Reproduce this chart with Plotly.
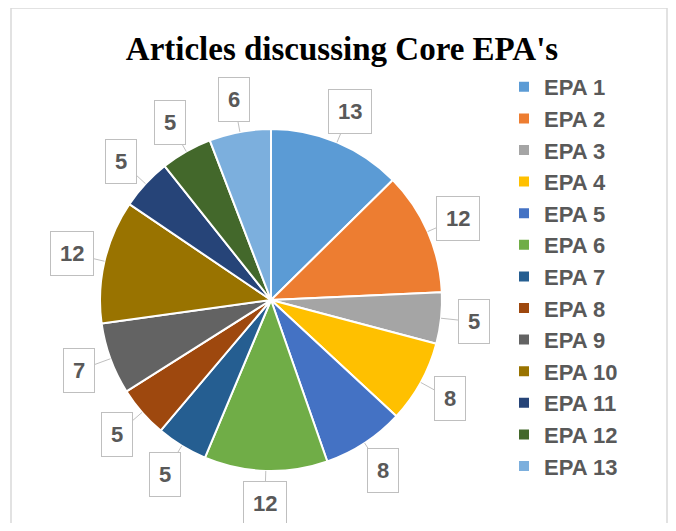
import numpy as np
import plotly.graph_objects as go

labels = ["EPA 1", "EPA 2", "EPA 3", "EPA 4", "EPA 5", "EPA 6", "EPA 7",
          "EPA 8", "EPA 9", "EPA 10", "EPA 11", "EPA 12", "EPA 13"]
values = [13, 12, 5, 8, 8, 12, 5, 5, 7, 12, 5, 5, 6]
colors = ["#5B9BD5", "#ED7D31", "#A5A5A5", "#FFC000", "#4472C4", "#70AD47",
          "#255E91", "#9E480E", "#636363", "#997300", "#264478", "#43682B",
          "#7CAFDD"]
title = "Articles discussing Core EPA's"

OFF = 8            # page body margin
W, H = 676 - 2 * OFF, 531 - 2 * OFF


def px(x):
    return (x - OFF) / W


def py(y):
    return 1 - (y - OFF) / H


CX, CY, R = 271, 300, 171  # pie centre and radius (window pixels)

fig = go.Figure(go.Pie(
    labels=labels, values=values, sort=False, direction="clockwise",
    rotation=0, marker=dict(colors=colors, line=dict(color="white", width=2)),
    textinfo="none", hoverinfo="label+value",
    domain=dict(x=[px(CX - R), px(CX + R)], y=[py(CY + R), py(CY - R)]),
))

# callout labels placed from each slice's mid-angle
vals = np.array(values, dtype=float)
cum = np.cumsum(vals) - vals / 2
mid = cum / vals.sum() * 2 * np.pi
annotations = []
for v, a in zip(values, mid):
    ex = CX + R * np.sin(a)
    ey = CY - R * np.cos(a)
    d = 33
    annotations.append(dict(
        x=px(ex), y=py(ey), xref="paper", yref="paper",
        text=f"<b>{v}</b>", showarrow=True, arrowhead=0, arrowwidth=1,
        arrowcolor="#BFBFBF", standoff=0,
        ax=d * np.sin(a), ay=-d * np.cos(a), axref="pixel", ayref="pixel",
        font=dict(family="Liberation Sans, Arial", size=22, color="#595959"),
        bgcolor="white", bordercolor="#BFBFBF", borderwidth=1, borderpad=9,
    ))

fig.update_layout(
    width=W, height=H,
    margin=dict(l=0, r=0, t=0, b=0),
    paper_bgcolor="white",
    title=dict(text=f"<b>{title}</b>", x=px(342), xanchor="center",
               y=py(48), yanchor="middle",
               font=dict(family="Liberation Serif, Times New Roman", size=33,
                         color="#000000")),
    legend=dict(x=px(504), y=py(66), xanchor="left", yanchor="top",
                font=dict(family="Liberation Sans, Arial", size=22,
                          color="#595959", weight="bold"),
                bgcolor="rgba(0,0,0,0)", itemwidth=30),
    annotations=annotations,
    shapes=[dict(type="rect", xref="paper", yref="paper",
                 x0=px(11), x1=px(667), y0=-0.05, y1=py(8),
                 line=dict(color="#D9D9D9", width=1.5), layer="below")],
)

fig.write_html("out.html")
